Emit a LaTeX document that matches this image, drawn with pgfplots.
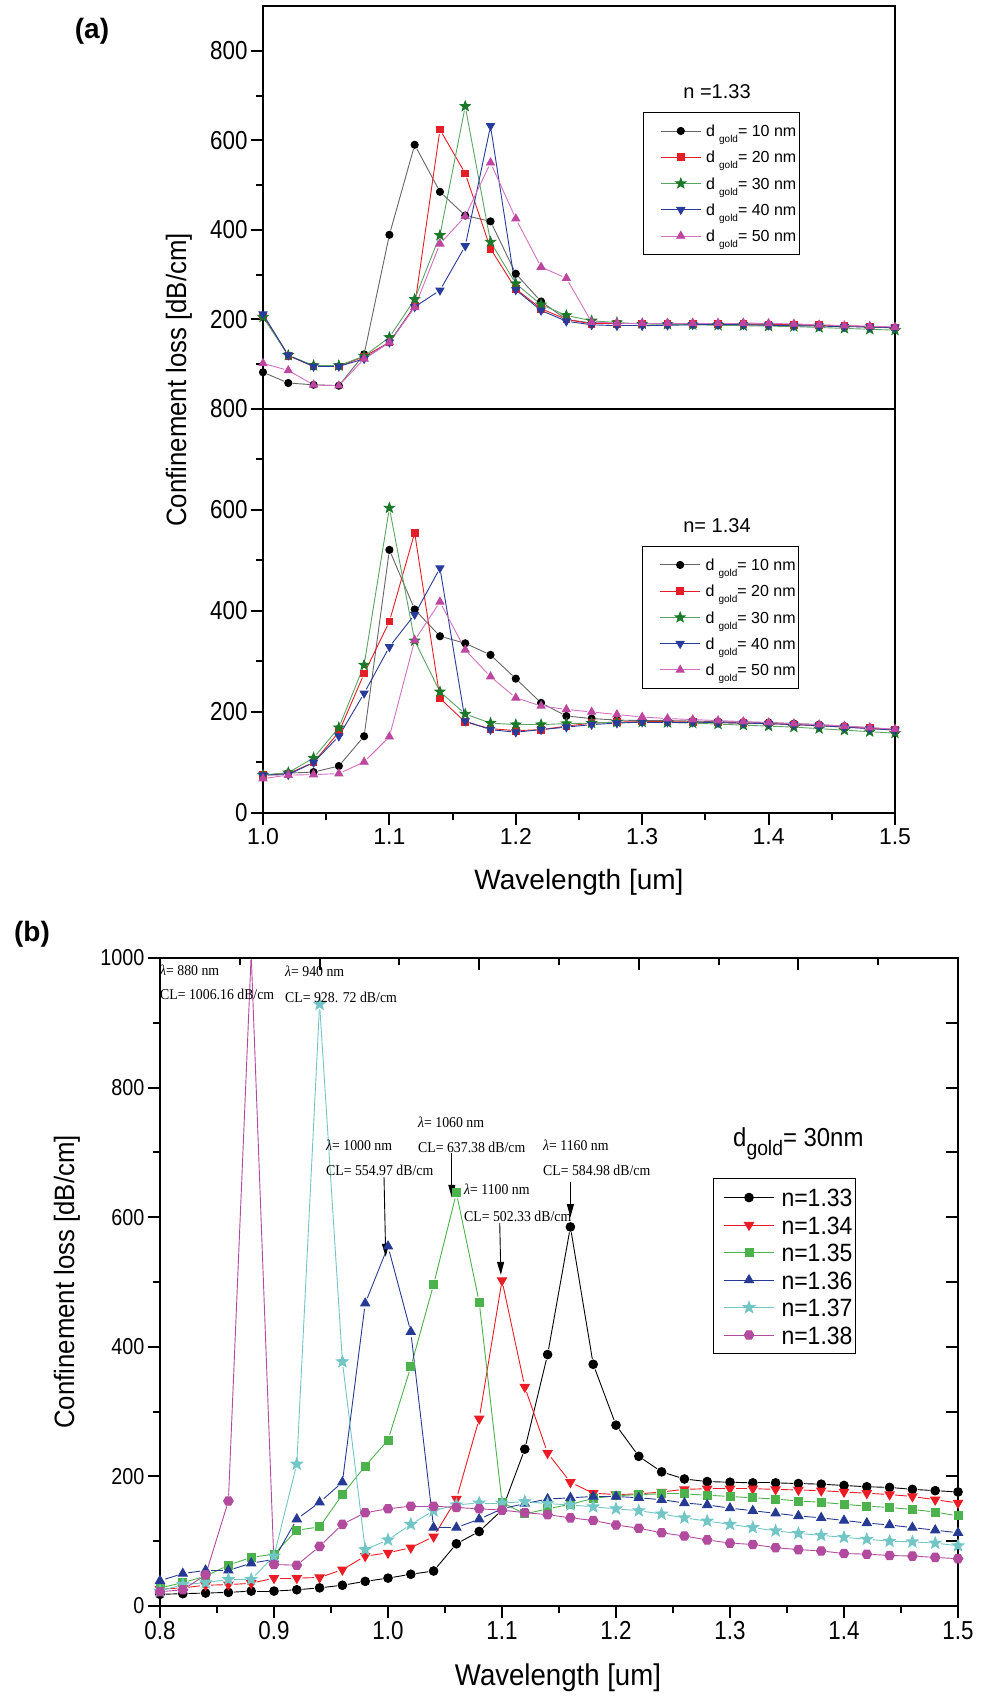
\documentclass[border=0pt]{standalone}
\usepackage{fontspec}
\setmainfont{Liberation Sans}
\newfontfamily\condA{Liberation Sans}[FakeStretch=0.86]
\newfontfamily\condB{Liberation Sans}[FakeStretch=0.92]
\newfontfamily\tms{Liberation Serif}[FakeStretch=0.92]
\usepackage{pgfplots}
\pgfplotsset{compat=1.18}
\usepackage{pgfplotstable}
\usetikzlibrary{arrows.meta}
\newcommand{\fs}[1]{\fontsize{#1}{#1}\selectfont}

\pgfdeclareplotmark{fstar}{%
  \pgfpathmoveto{\pgfpointpolar{90}{\pgfplotmarksize}}%
  \pgfpathlineto{\pgfpointpolar{126}{0.42\pgfplotmarksize}}%
  \pgfpathlineto{\pgfpointpolar{162}{\pgfplotmarksize}}%
  \pgfpathlineto{\pgfpointpolar{198}{0.42\pgfplotmarksize}}%
  \pgfpathlineto{\pgfpointpolar{234}{\pgfplotmarksize}}%
  \pgfpathlineto{\pgfpointpolar{270}{0.42\pgfplotmarksize}}%
  \pgfpathlineto{\pgfpointpolar{306}{\pgfplotmarksize}}%
  \pgfpathlineto{\pgfpointpolar{342}{0.42\pgfplotmarksize}}%
  \pgfpathlineto{\pgfpointpolar{18}{\pgfplotmarksize}}%
  \pgfpathlineto{\pgfpointpolar{54}{0.42\pgfplotmarksize}}%
  \pgfpathclose\pgfusepathqfillstroke}
\pgfdeclareplotmark{hex}{%
  \pgfpathmoveto{\pgfpointpolar{0}{\pgfplotmarksize}}%
  \pgfpathlineto{\pgfpointpolar{60}{\pgfplotmarksize}}%
  \pgfpathlineto{\pgfpointpolar{120}{\pgfplotmarksize}}%
  \pgfpathlineto{\pgfpointpolar{180}{\pgfplotmarksize}}%
  \pgfpathlineto{\pgfpointpolar{240}{\pgfplotmarksize}}%
  \pgfpathlineto{\pgfpointpolar{300}{\pgfplotmarksize}}%
  \pgfpathclose\pgfusepathqfillstroke}

\definecolor{aRed}{RGB}{228,30,38}
\definecolor{aGreen}{RGB}{26,120,40}
\definecolor{aGreenL}{RGB}{90,165,100}
\definecolor{aBlue}{RGB}{40,60,155}
\definecolor{aMag}{RGB}{190,70,160}
\definecolor{aMagL}{RGB}{212,112,192}
\definecolor{bRed}{RGB}{236,28,36}
\definecolor{bGreen}{RGB}{76,178,76}
\definecolor{bBlue}{RGB}{38,58,148}
\definecolor{bCyan}{RGB}{114,198,198}
\definecolor{bMag}{RGB}{178,74,158}

\pgfplotstableread{
x b r g bl m
1.00 82 209 205 212 102
1.02 58 119 120 120 86
1.04 54 95 97 95 54
1.06 52 95 97 95 52
1.08 122 117 118 112 112
1.10 389 149 160 149 149
1.12 590 230 245 228 227
1.14 485 624 388 265 369
1.16 432 526 676 364 430
1.18 419 358 373 632 550
1.20 302 268 280 266 425
1.22 240 224 233 220 317
1.24 200 200 209 196 292
1.26 192 190 197 188 194
1.28 190 190 193 186 192
1.30 190 190 190 186 192
1.32 190 190 189 187 192
1.34 190 190 188 188 192
1.36 190 190 187 188 192
1.38 190 190 186 188 192
1.40 189 189 185 187 191
1.42 188 188 184 186 190
1.44 187 187 182 185 188
1.46 185 186 180 184 186
1.48 183 184 178 183 185
1.50 181 182 176 182 183
}\tA

\pgfplotstableread{
x b r g bl m
1.00 75 75 75 75 68
1.02 79 78 80 76 75
1.04 81 100 109 100 76
1.06 93 160 169 152 78
1.08 152 276 293 237 101
1.10 521 379 604 329 151
1.12 403 555 341 393 342
1.14 350 227 240 485 418
1.16 336 180 196 182 323
1.18 313 167 178 165 270
1.20 266 163 175 160 228
1.22 218 165 175 165 212
1.24 192 172 177 170 205
1.26 187 178 178 175 200
1.28 184 180 180 178 195
1.30 183 181 180 180 190
1.32 183 181 179 180 187
1.34 182 180 178 180 185
1.36 181 179 176 179 183
1.38 180 178 174 178 181
1.40 179 177 172 177 179
1.42 177 175 170 175 177
1.44 175 173 167 173 175
1.46 172 170 164 170 172
1.48 169 168 161 167 169
1.50 165 165 158 164 166
}\tB

\pgfplotstableread{
x b r g bl c m
0.80 18 26 28 39 23 22
0.82 19 28 36 50 33 25
0.84 20 32 46 55 36 48
0.86 21 33 63 55 41 162
0.88 23 35 75 66 41 1006.16
0.90 23 43 80 72 77 64
0.92 25 43 117 134 219 63
0.94 28 44 122 160 928.72 92
0.96 32 56 172 191 377 126
0.98 38 77 216 467 87 144
1.00 43 82 256 554.97 102 150
1.02 49 90 369 423 126 154
1.04 54 107 496 121 147 154
1.06 96 165 637.38 121 156 152
1.08 115 289 469 134 159 150
1.10 148 502.33 160 150 159 148
1.12 242 338 142 158 161 144
1.14 388 236 150 165 158 141
1.16 584.98 191 157 167 156 136
1.18 373 174 166 169 153 132
1.20 279 172 170 169 150 125
1.22 231 173 172 167 147 120
1.24 207 176 173 164 142 113
1.26 196 180 173 159 136 108
1.28 192 181 171 156 131 102
1.30 191 181 169 151 126 97
1.32 190 181 167 147 121 95
1.34 190 180 165 143 116 90
1.36 189 179 162 139 112 87
1.38 188 178 160 136 109 85
1.40 186 176 157 132 106 81
1.42 184 174 154 128 103 80
1.44 183 172 152 125 100 78
1.46 180 169 149 121 99 77
1.48 178 164 145 117 97 75
1.50 176 159 139 113 93 73
}\tC

% step to the next point, for the broken (gapped) connecting lines
\pgfplotstablecreatecol[create col/expr={\nextrow{b}-\thisrow{b}}]{db}\tA
\pgfplotstablecreatecol[create col/expr={\nextrow{r}-\thisrow{r}}]{dr}\tA
\pgfplotstablecreatecol[create col/expr={\nextrow{g}-\thisrow{g}}]{dg}\tA
\pgfplotstablecreatecol[create col/expr={\nextrow{bl}-\thisrow{bl}}]{dbl}\tA
\pgfplotstablecreatecol[create col/expr={\nextrow{m}-\thisrow{m}}]{dm}\tA
\pgfplotstablecreatecol[create col/expr={\nextrow{b}-\thisrow{b}}]{db}\tB
\pgfplotstablecreatecol[create col/expr={\nextrow{r}-\thisrow{r}}]{dr}\tB
\pgfplotstablecreatecol[create col/expr={\nextrow{g}-\thisrow{g}}]{dg}\tB
\pgfplotstablecreatecol[create col/expr={\nextrow{bl}-\thisrow{bl}}]{dbl}\tB
\pgfplotstablecreatecol[create col/expr={\nextrow{m}-\thisrow{m}}]{dm}\tB
\pgfplotstablecreatecol[create col/expr={\nextrow{b}-\thisrow{b}}]{db}\tC
\pgfplotstablecreatecol[create col/expr={\nextrow{r}-\thisrow{r}}]{dr}\tC
\pgfplotstablecreatecol[create col/expr={\nextrow{g}-\thisrow{g}}]{dg}\tC
\pgfplotstablecreatecol[create col/expr={\nextrow{bl}-\thisrow{bl}}]{dbl}\tC
\pgfplotstablecreatecol[create col/expr={\nextrow{c}-\thisrow{c}}]{dc}\tC
\pgfplotstablecreatecol[create col/expr={\nextrow{m}-\thisrow{m}}]{dm}\tC

\pgfplotsset{
  base/.style={scale only axis, anchor=south west,
    axis line style={line width=2.3pt},
    tick align=outside,
    major tick length=12pt, minor tick length=7pt,
    major tick style={line width=2pt, black},
    minor tick style={line width=2pt, black},
    /pgf/number format/assume math mode=true,
    /pgf/number format/1000 sep={},
    clip=true},
  mA1/.style={only marks, draw=black!60, line width=0.9pt, mark=*, mark size=3.6pt, mark options={draw=black, fill=black, solid}},
  mA2/.style={only marks, draw=aRed, line width=0.9pt, mark=square*, mark size=3.3pt, mark options={draw=aRed, fill=aRed, solid}},
  mA3/.style={only marks, draw=aGreenL, line width=0.9pt, mark=fstar, mark size=5.2pt, mark options={draw=aGreen, fill=aGreen, solid}},
  mA4/.style={only marks, draw=aBlue, line width=0.9pt, mark=triangle*, mark size=4.6pt, mark options={draw=aBlue, fill=aBlue, solid, rotate=180}},
  mA5/.style={only marks, draw=aMagL, line width=0.9pt, mark=triangle*, mark size=4.6pt, mark options={draw=aMag, fill=aMag, solid}},
  mB1/.style={only marks, draw=black, line width=1pt, mark=*, mark size=4.3pt, mark options={draw=black, fill=black, solid}},
  mB2/.style={only marks, draw=bRed, line width=1pt, mark=triangle*, mark size=5.2pt, mark options={draw=bRed, fill=bRed, solid, rotate=180}},
  mB3/.style={only marks, draw=bGreen, line width=1pt, mark=square*, mark size=4pt, mark options={draw=bGreen, fill=bGreen, solid}},
  mB4/.style={only marks, draw=bBlue, line width=1pt, mark=triangle*, mark size=5.2pt, mark options={draw=bBlue, fill=bBlue, solid}},
  mB5/.style={only marks, draw=bCyan, line width=1pt, mark=fstar, mark size=6pt, mark options={draw=bCyan, fill=bCyan, solid}},
  mB6/.style={only marks, draw=bMag, line width=1pt, mark=hex, mark size=4.8pt, mark options={draw=bMag, fill=bMag, solid}},
  legA/.style={legend style={at={(#1)}, anchor=north west, draw=black, line width=1pt,
      font=\fs{16}, row sep=5.65pt, column sep=5pt, inner xsep=3pt, inner ysep=8.2pt,
      nodes={inner sep=0pt, text height=16pt, text depth=4.6pt, anchor=west}},
    legend cell align=left,
    legend image code/.code={\path (0pt,0pt); \draw[##1] (14pt,0pt) -- (54pt,0pt); \draw[##1] plot coordinates {(34pt,0pt)};}},
}
% #1 table, #2 column, #3 line colour, #4 marker style, #5 gap, #6 last index
\newcommand{\series}[6]{%
  \addplot[forget plot, draw=#3, line width=0.9pt, mark=none,
    quiver={u=0.02, v=\thisrow{d#2}, every arrow/.append style={shorten <=#5, shorten >=#5}},
    skip coords between index={#6}{100}] table[x=x,y=#2]{#1};
  \addplot[#4] table[x=x,y=#2]{#1};
}
\newcommand{\dg}[1]{d\hspace{4pt}\raisebox{-6pt}{\fs{10}gold}= #1 nm\hspace{12pt}}

\begin{document}
\begin{tikzpicture}
\useasboundingbox (0pt,0pt) rectangle (991pt,1696pt);

% ---------- (a) upper ----------
\begin{axis}[base, at={(263pt,1287pt)}, width=632pt, height=403pt,
  xmin=1.0, xmax=1.5, ymin=0, ymax=900,
  xtick=\empty, ytick={200,400,600,800}, minor ytick={100,300,500,700},
  ytick pos=left,
  yticklabel style={font=\condA\fs{26}},
  legA={0.601,0.737}]
\series{\tA}{b}{black!60}{mA1}{4.5pt}{25} \addlegendentry{\dg{10}}
\series{\tA}{r}{aRed}{mA2}{4.5pt}{25} \addlegendentry{\dg{20}}
\series{\tA}{g}{aGreenL}{mA3}{4.5pt}{25} \addlegendentry{\dg{30}}
\series{\tA}{bl}{aBlue}{mA4}{4.5pt}{25} \addlegendentry{\dg{40}}
\series{\tA}{m}{aMagL}{mA5}{4.5pt}{25} \addlegendentry{\dg{50}}
\end{axis}

% ---------- (a) lower ----------
\begin{axis}[base, at={(263pt,883pt)}, width=632pt, height=404pt,
  xmin=1.0, xmax=1.5, ymin=0, ymax=800,
  xtick={1.0,1.1,1.2,1.3,1.4,1.5}, minor xtick={1.05,1.15,1.25,1.35,1.45},
  ytick={0,200,400,600,800}, minor ytick={100,300,500,700},
  tick pos=left,
  yticklabel style={font=\condA\fs{26}},
  xticklabel style={font=\fs{23}, /pgf/number format/.cd, fixed, fixed zerofill, precision=1},
  legA={0.6,0.661}]
\series{\tB}{b}{black!60}{mA1}{4.5pt}{25} \addlegendentry{\dg{10}}
\series{\tB}{r}{aRed}{mA2}{4.5pt}{25} \addlegendentry{\dg{20}}
\series{\tB}{g}{aGreenL}{mA3}{4.5pt}{25} \addlegendentry{\dg{30}}
\series{\tB}{bl}{aBlue}{mA4}{4.5pt}{25} \addlegendentry{\dg{40}}
\series{\tB}{m}{aMagL}{mA5}{4.5pt}{25} \addlegendentry{\dg{50}}
\end{axis}

\node[font=\bfseries\fs{28}] at (92pt,1665pt) {(a)};
\node[font=\fs{20}] at (717pt,1604pt) {n =1.33};
\node[font=\fs{20}] at (717pt,1170pt) {n= 1.34};
\node[rotate=90, font=\condB\fs{28}] at (179pt,1316pt) {Confinement loss [dB/cm]};
\node[font=\fs{28}] at (579pt,814pt) {Wavelength [um]};

% ---------- (b) ----------
\begin{axis}[base, at={(160pt,90pt)}, width=798pt, height=648pt,
  xmin=0, xmax=10, ymin=0, ymax=1000,
  xtick={2,4,6,8}, minor xtick={1,3,5,7,9},
  ytick={100,200,300,400,500,600,700,800,900},
  xtick pos=right, ytick pos=right, tick align=inside,
  xticklabels={}, yticklabels={}]
\end{axis}
\begin{axis}[base, at={(160pt,90pt)}, width=798pt, height=648pt,
  xmin=0.8, xmax=1.5, ymin=0, ymax=1000,
  xtick={0.8,0.9,1.0,1.1,1.2,1.3,1.4,1.5}, minor xtick={0.85,0.95,1.05,1.15,1.25,1.35,1.45},
  ytick={0,200,400,600,800,1000}, minor ytick={100,300,500,700,900},
  tick pos=left,
  yticklabel style={font=\condA\fs{23}},
  xticklabel style={font=\condA\fs{26}, /pgf/number format/.cd, fixed, fixed zerofill, precision=1},
  legend style={at={(0.693,0.66)}, anchor=north west, draw=black, line width=1pt,
      font=\condB\fs{25}, row sep=1.5pt, column sep=7pt, inner xsep=3pt, inner ysep=5.75pt,
      nodes={inner sep=0pt, text height=22pt, text depth=4pt, anchor=west}},
  legend cell align=left,
  legend image code/.code={\path (0pt,0pt); \draw[#1] (7pt,0pt) -- (57pt,0pt); \draw[#1] plot coordinates {(32pt,0pt)};}]
\series{\tC}{b}{black}{mB1}{5.5pt}{35} \addlegendentry{n=1.33\hspace{6pt}}
\series{\tC}{r}{bRed}{mB2}{5.5pt}{35} \addlegendentry{n=1.34\hspace{6pt}}
\series{\tC}{g}{bGreen}{mB3}{5.5pt}{35} \addlegendentry{n=1.35\hspace{6pt}}
\series{\tC}{bl}{bBlue}{mB4}{5.5pt}{35} \addlegendentry{n=1.36\hspace{6pt}}
\series{\tC}{c}{bCyan}{mB5}{5.5pt}{35} \addlegendentry{n=1.37\hspace{6pt}}
\series{\tC}{m}{bMag}{mB6}{5.5pt}{35} \addlegendentry{n=1.38\hspace{6pt}}
\draw[-{Triangle[length=13pt,width=7pt]}, line width=0.9pt] (axis cs:0.9965,662) -- (axis cs:0.998,539);
\draw[-{Triangle[length=13pt,width=7pt]}, line width=0.9pt] (axis cs:1.056,699) -- (axis cs:1.056,630);
\draw[-{Triangle[length=13pt,width=7pt]}, line width=0.9pt] (axis cs:1.098,591) -- (axis cs:1.099,511);
\draw[-{Triangle[length=13pt,width=7pt]}, line width=0.9pt] (axis cs:1.160,654) -- (axis cs:1.160,600);
\end{axis}

\node[font=\bfseries\fs{28}] at (32pt,762pt) {(b)};
\node[rotate=90, font=\condB\fs{28}] at (67pt,414pt) {Confinement loss [dB/cm]};
\node[font=\condB\fs{30}] at (558pt,18pt) {Wavelength [um]};
\node[anchor=base west, inner sep=0pt, font=\condB\fs{26}] at (733pt,549pt) {d\raisebox{-9pt}{\fs{21}gold}= 30nm};

\begin{scope}[every node/.style={anchor=west, inner sep=0pt, font=\tms\fs{15}}]
\node at (160pt,726pt) {{\itshape λ}= 880 nm};
\node at (160pt,702pt) {CL= 1006.16 dB/cm};
\node at (285pt,725pt) {{\itshape λ}= 940 nm};
\node at (285pt,699pt) {CL= 928. 72 dB/cm};
\node at (326pt,551pt) {{\itshape λ}= 1000 nm};
\node at (326pt,526pt) {CL= 554.97 dB/cm};
\node at (418pt,574pt) {{\itshape λ}= 1060 nm};
\node at (418pt,549pt) {CL= 637.38 dB/cm};
\node at (464pt,507pt) {{\itshape λ}= 1100 nm};
\node at (464pt,480pt) {CL= 502.33 dB/cm};
\node at (543pt,551pt) {{\itshape λ}= 1160 nm};
\node at (543pt,526pt) {CL= 584.98 dB/cm};
\end{scope}
\end{tikzpicture}
\end{document}
